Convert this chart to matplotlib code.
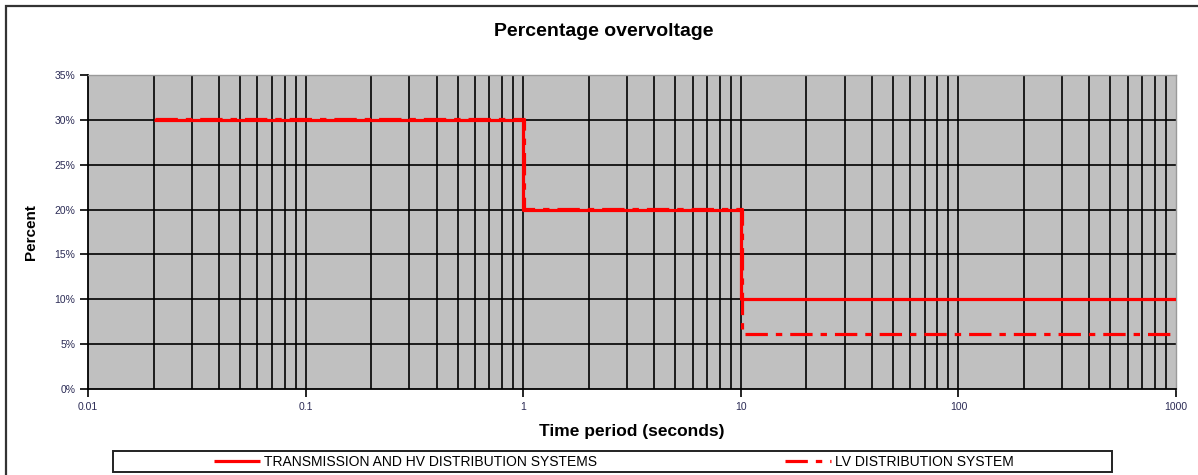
import matplotlib
matplotlib.use("Agg")
import matplotlib.pyplot as plt
import matplotlib.transforms as mtransforms
from matplotlib.patches import Rectangle
from matplotlib.ticker import FixedLocator, FuncFormatter, NullFormatter

# Step profiles: time (s) at each corner and the percentage overvoltage limit
time_hv = [0.02, 1, 1, 10, 10, 1000]
pct_hv = [30, 30, 20, 20, 10, 10]

time_lv = [0.02, 1, 1, 10, 10, 1000]
pct_lv = [30, 30, 20, 20, 6, 6]

series_names = ["TRANSMISSION AND HV DISTRIBUTION SYSTEMS", "LV DISTRIBUTION SYSTEM"]
x_ticks = [0.01, 0.1, 1, 10, 100, 1000]
x_tick_labels = ["0.01", "0.1", "1", "10", "100", "1000"]
y_ticks = [0, 5, 10, 15, 20, 25, 30, 35]

plt.rcParams["font.family"] = ["Liberation Sans", "DejaVu Sans"]

W, H = 1198, 475
fig = plt.figure(figsize=(W / 100, H / 100), dpi=100)
fig.patch.set_facecolor("white")

# outer chart frame
fig.patches.append(Rectangle((6 / W, -0.05), 1.2, 1 - 6 / H + 0.05, transform=fig.transFigure,
                             fill=False, edgecolor="#333333", linewidth=1.6, zorder=0))

ax = fig.add_axes([88 / W, 1 - 389 / H, (1176 - 88) / W, (389 - 75) / H])
ax.set_facecolor("#C0C0C0")
ax.set_xscale("log")
ax.set_xlim(0.01, 1000)
ax.set_ylim(0, 35)

# grid on every major and minor decade line
minor_locs = [m * 10.0 ** e for e in range(-2, 3) for m in range(2, 10)]
for xv in x_ticks[1:-1] + minor_locs:
    ax.axvline(xv, color="black", linewidth=1.2, zorder=1)
for yv in y_ticks[1:-1]:
    ax.axhline(yv, color="black", linewidth=1.2, zorder=1)

red = "#FF0000"
ax.plot(time_hv, pct_hv, color=red, linewidth=2.3, zorder=3, solid_capstyle="butt")
# LV drawn on top, nudged a pixel so the dashes stay visible where the limits coincide
nudge = mtransforms.ScaledTranslation(1 / 100, 0.8 / 100, fig.dpi_scale_trans)
ax.plot(time_lv, pct_lv, color=red, linewidth=2.3, zorder=4,
        dashes=(7, 2.5, 2, 2.5), dash_capstyle="butt",
        transform=ax.transData + nudge)

for side in ("top", "right"):
    ax.spines[side].set_color("#9a9a9a")
    ax.spines[side].set_linewidth(1.0)
for side in ("left", "bottom"):
    ax.spines[side].set_color("black")
    ax.spines[side].set_linewidth(1.3)

tick_color = "#2b2b55"
ax.xaxis.set_major_locator(FixedLocator(x_ticks))
ax.set_xticklabels(x_tick_labels)
ax.xaxis.set_minor_locator(FixedLocator([]))
ax.xaxis.set_minor_formatter(NullFormatter())
ax.yaxis.set_major_locator(FixedLocator(y_ticks))
ax.yaxis.set_major_formatter(FuncFormatter(lambda v, p: f"{int(v)}%"))
ax.tick_params(axis="both", direction="out", length=6, width=1.2, color="black",
               labelsize=7.5, labelcolor=tick_color, pad=3)

ax.set_xlabel("Time period (seconds)", fontsize=12.5, fontweight="bold", labelpad=9)
ax.set_ylabel("Percent", fontsize=11, fontweight="bold", labelpad=12)
fig.text(604 / W, 1 - 31 / H, "Percentage overvoltage", ha="center", va="center",
         fontsize=14, fontweight="bold")

# legend strip at the bottom
fig.patches.append(Rectangle((113 / W, 1 - 472 / H), (1112 - 113) / W, 21 / H,
                             transform=fig.transFigure, fill=False, edgecolor="#222222",
                             linewidth=1.4, zorder=2))
handles = ax.get_lines()[-2:]
leg = fig.legend(handles, series_names, loc="center", bbox_to_anchor=(614 / W, 1 - 461.5 / H),
                 ncol=2, frameon=False, handlelength=3.3, handletextpad=0.3,
                 columnspacing=13.5, prop={"size": 10})

fig.savefig("out.png", dpi=100)
